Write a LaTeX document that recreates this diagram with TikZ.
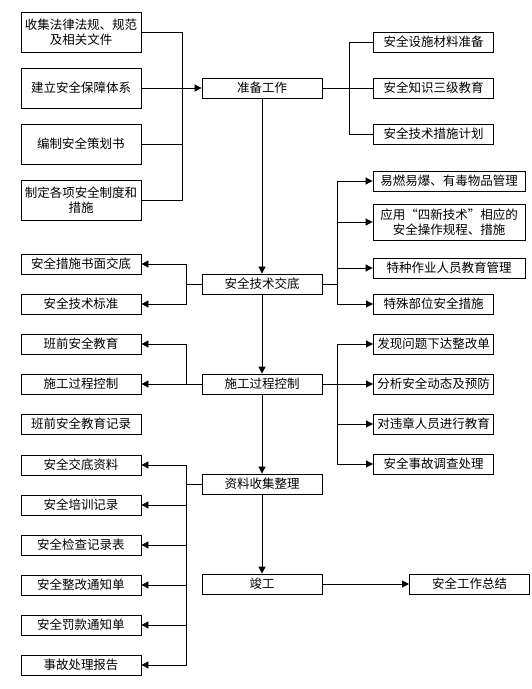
\documentclass[tikz,border=0pt]{standalone}
\usepackage{fontspec}
\newfontfamily\cjk{Noto Sans CJK SC}
\usetikzlibrary{arrows.meta}
\begin{document}
\begin{tikzpicture}[x=1pt,y=-1pt,
  box/.style={draw,line width=.8pt,minimum width=120pt,minimum height=20pt,inner sep=1pt,
    align=center,font=\cjk\fontsize{12.5}{15}\selectfont},
  widebox/.style={box,minimum width=152pt},
  tallbox/.style={box,minimum height=40pt},
  link/.style={line width=.8pt},
  arr/.style={link,-{Triangle[length=7pt,width=7pt]}}]
  \useasboundingbox (0,0) rectangle (532,689);
  \node[tallbox] (c1) at (81,32) {收集法律法规、规范\\及相关文件};
  \node[tallbox] (c2) at (81,88) {建立安全保障体系};
  \node[tallbox] (c3) at (81,144) {编制安全策划书};
  \node[tallbox] (c4) at (81,200) {制定各项安全制度和\\措施};
  \node[box] (prep) at (262,88) {准备工作};
  \node[box] (r1) at (433.5,42) {安全设施材料准备};
  \node[box] (r2) at (433.5,88) {安全知识三级教育};
  \node[box] (r3) at (433.5,134) {安全技术措施计划};

  \node[box] (brief) at (262,284) {安全技术交底};
  \node[box] (l1) at (81,264) {安全措施书面交底};
  \node[box] (l2) at (81,304) {安全技术标准};
  \node[widebox] (t1) at (449,181) {易燃易爆、有毒物品管理};
  \node[widebox,minimum height=36pt] (t2) at (449,222) {应用“四新技术”相应的\\安全操作规程、措施};
  \node[widebox] (t3) at (449,268) {特种作业人员教育管理};
  \node[box] (t4) at (433.5,304) {特殊部位安全措施};

  \node[box] (ctrl) at (262,384) {施工过程控制};
  \node[box] (m1) at (81,344) {班前安全教育};
  \node[box] (m2) at (81,384) {施工过程控制};
  \node[box] (m3) at (81,424) {班前安全教育记录};
  \node[box] (n1) at (433.5,344) {发现问题下达整改单};
  \node[box] (n2) at (433.5,384) {分析安全动态及预防};
  \node[box] (n3) at (433.5,424) {对违章人员进行教育};
  \node[box] (n4) at (433.5,464) {安全事故调查处理};

  \node[box] (docs) at (262,484) {资料收集整理};
  \foreach \t [count=\i] in {安全交底资料,安全培训记录,安全检查记录表,安全整改通知单,安全罚款通知单,事故处理报告}
    \node[box] (k\i) at (81,425+40*\i) {\t};

  \node[box] (done) at (262,584) {竣工};
  \node[box] (sum) at (469.5,584) {安全工作总结};

  \coordinate (busA) at (182,88);
  \coordinate (busB) at (349,88);
  \coordinate (busC) at (337,284);
  \coordinate (busD) at (186,284);
  \coordinate (busE) at (186,384);
  \coordinate (busF) at (337,384);
  \coordinate (busG) at (186,484);

  \draw[link] (c1.east) -| (busA);
  \draw[link] (c3.east) -| (busA);
  \draw[link] (c4.east) -| (busA);
  \draw[arr] (c2.east) -- (prep.west);
  \draw[link] (prep.east) -- (r2.west);
  \draw[link] (r1.west) -| (busB);
  \draw[link] (r3.west) -| (busB);

  \draw[link] (brief.east) -- (busC);
  \foreach \n in {t1,t2,t3,t4}
    \draw[arr] (busC) |- (\n.west);
  \draw[link] (brief.west) -- (busD);
  \draw[arr] (busD) |- (l1.east);
  \draw[arr] (busD) |- (l2.east);

  \draw[arr] (ctrl.west) -- (m2.east);
  \draw[arr] (busE) |- (m1.east);
  \draw[link] (ctrl.east) -- (busF);
  \foreach \n in {n1,n2,n3,n4}
    \draw[arr] (busF) |- (\n.west);

  \draw[link] (docs.west) -- (busG);
  \foreach \i in {1,...,6}
    \draw[arr] (busG) |- (k\i.east);

  \draw[arr] (prep.south) -- (brief.north);
  \draw[arr] (brief.south) -- (ctrl.north);
  \draw[arr] (ctrl.south) -- (docs.north);
  \draw[arr] (docs.south) -- (done.north);
  \draw[arr] (done.east) -- (sum.west);
\end{tikzpicture}
\end{document}
